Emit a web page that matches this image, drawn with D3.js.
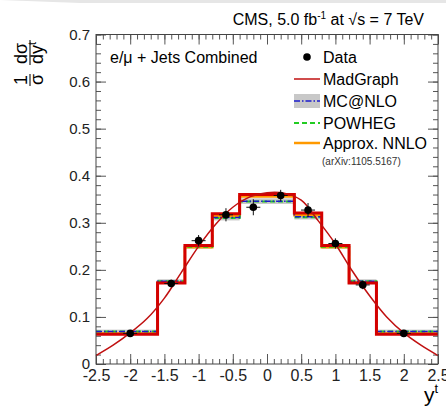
<!DOCTYPE html>
<html>
<head>
<meta charset="utf-8">
<script src="https://cdn.jsdelivr.net/npm/d3@7"></script>
<style>
  body { margin: 0; background: #fff; }
  svg { font-family: "Liberation Sans", Arial, sans-serif; display: block; }
  .axis text { font-size: 15px; fill: #222; }
  .axis.xl text { font-size: 16px; }
  .axis line { stroke: #555; }
  .axis path { display: none; }
</style>
</head>
<body>
<div id="chart"></div>
<script>
// bin edges of the top-quark rapidity histogram
var binEdges = [-2.5, -1.6, -1.2, -0.8, -0.4, 0, 0.4, 0.8, 1.2, 1.6, 2.5];
var madgraph = [0.063, 0.172, 0.252, 0.319, 0.360, 0.360, 0.321, 0.252, 0.172, 0.063];
var mcatnlo  = [0.069, 0.176, 0.250, 0.311, 0.346, 0.346, 0.313, 0.250, 0.176, 0.069];
var mcatnloErr = [0.004, 0.004, 0.005, 0.006, 0.006, 0.006, 0.006, 0.005, 0.004, 0.004];
var powheg   = [0.069, 0.176, 0.249, 0.310, 0.345, 0.345, 0.312, 0.249, 0.176, 0.069];
var nnlo     = [0.065, 0.173, 0.248, 0.314, 0.356, 0.356, 0.316, 0.248, 0.173, 0.065];

// measured points
var dataX   = [-2.0, -1.4, -1.0, -0.6, -0.2, 0.2, 0.6, 1.0, 1.4, 2.0];
var dataY   = [0.065, 0.171, 0.262, 0.317, 0.333, 0.358, 0.327, 0.256, 0.168, 0.065];
var dataErr = [0.006, 0.008, 0.012, 0.014, 0.017, 0.012, 0.015, 0.011, 0.009, 0.006];

// smooth MadGraph curve
var curveX = [-2.5, -2.25, -2.0, -1.75, -1.5, -1.25, -1.0, -0.75, -0.5, -0.25, 0, 0.25, 0.5, 0.75, 1.0, 1.25, 1.5, 1.75, 2.0, 2.25, 2.5];
var curveY = [0.018, 0.040, 0.066, 0.097, 0.140, 0.195, 0.250, 0.297, 0.333, 0.355, 0.364, 0.363, 0.348, 0.304, 0.255, 0.197, 0.145, 0.100, 0.066, 0.040, 0.018];

var xMajor = [-2.5, -2, -1.5, -1, -0.5, 0, 0.5, 1, 1.5, 2, 2.5];
var xLabels = ["-2.5", "-2", "-1.5", "-1", "-0.5", "0", "0.5", "1", "1.5", "2", "2.5"];
var yMajor = [0, 0.1, 0.2, 0.3, 0.4, 0.5, 0.6, 0.7];
var yLabels = ["0", "0.1", "0.2", "0.3", "0.4", "0.5", "0.6", "0.7"];

var legendNames = ["Data", "MadGraph", "MC@NLO", "POWHEG", "Approx. NNLO"];

var w = 446, h = 410;
var padL = 96, padR = 438, padT = 34.5, padB = 364;

var svg = d3.select("#chart").append("svg")
    .attr("width", w).attr("height", h);

// faint page shadow at the top
svg.append("polygon")
    .attr("points", "0,0 446,0 446,3 80,3")
    .attr("fill", "#e6e6e6");

var xScale = d3.scaleLinear().domain([-2.5, 2.5]).range([padL, padR]);
var yScale = d3.scaleLinear().domain([0, 0.7]).range([padB, padT]);

var xMinor = d3.range(-25, 26).map(function(d) { return d / 10; });
var yMinor = d3.range(0, 36).map(function(d) { return d / 50; });

// ticks on all four sides, pointing inwards
function addAxis(axisFn, scale, vals, size, transform, labels, cls) {
    var ax = axisFn(scale).tickValues(vals).tickSize(-size).tickPadding(6);
    if (labels) ax.tickFormat(function(d, i) { return labels[i]; });
    else ax.tickFormat("");
    return svg.append("g").attr("class", "axis " + (cls || "")).attr("transform", transform).call(ax);
}
addAxis(d3.axisBottom, xScale, xMinor, 5, "translate(0," + padB + ")");
addAxis(d3.axisBottom, xScale, xMajor, 10, "translate(0," + padB + ")", xLabels, "xl");
addAxis(d3.axisTop, xScale, xMinor, 5, "translate(0," + padT + ")");
addAxis(d3.axisTop, xScale, xMajor, 10, "translate(0," + padT + ")");
addAxis(d3.axisLeft, yScale, yMinor, 5, "translate(" + padL + ",0)");
addAxis(d3.axisLeft, yScale, yMajor, 10, "translate(" + padL + ",0)", yLabels);
addAxis(d3.axisRight, yScale, yMinor, 5, "translate(" + padR + ",0)");
addAxis(d3.axisRight, yScale, yMajor, 10, "translate(" + padR + ",0)");

// step histograms
function steps(vals) {
    var pts = binEdges.map(function(e, i) { return [e, vals[Math.min(i, vals.length - 1)]]; });
    return d3.line()
        .x(function(d) { return xScale(d[0]); })
        .y(function(d) { return yScale(d[1]); })
        .curve(d3.curveStepAfter)(pts);
}

// MC@NLO uncertainty band
svg.selectAll(".band")
    .data(mcatnlo)
    .enter()
    .append("rect")
    .attr("class", "band")
    .attr("x", function(d, i) { return xScale(binEdges[i]); })
    .attr("width", function(d, i) { return xScale(binEdges[i + 1]) - xScale(binEdges[i]); })
    .attr("y", function(d, i) { return yScale(d + mcatnloErr[i]); })
    .attr("height", function(d, i) { return yScale(d - mcatnloErr[i]) - yScale(d + mcatnloErr[i]); })
    .attr("fill", "#c8c8c8");

svg.append("path").attr("d", steps(nnlo))
    .attr("fill", "none").attr("stroke", "#ff9900").attr("stroke-width", 2.5);
svg.append("path").attr("d", steps(powheg))
    .attr("fill", "none").attr("stroke", "#22cc22").attr("stroke-width", 2)
    .attr("stroke-dasharray", "5,3");
svg.append("path").attr("d", steps(mcatnlo))
    .attr("fill", "none").attr("stroke", "#1a1acc").attr("stroke-width", 1.5)
    .attr("stroke-dasharray", "6,2,1.5,2");
svg.append("path").attr("d", steps(madgraph))
    .attr("fill", "none").attr("stroke", "#d40000").attr("stroke-width", 3);

// smooth curve
var curveLine = d3.line()
    .x(function(d, i) { return xScale(d); })
    .y(function(d, i) { return yScale(curveY[i]); })
    .curve(d3.curveCatmullRom);
svg.append("path").datum(curveX).attr("d", curveLine)
    .attr("fill", "none").attr("stroke", "#c01010").attr("stroke-width", 1.5);

// data points with error crosses
var pts = svg.selectAll(".pt").data(dataX).enter().append("g").attr("class", "pt");
pts.append("line")
    .attr("x1", function(d) { return xScale(d) - 7; })
    .attr("x2", function(d) { return xScale(d) + 7; })
    .attr("y1", function(d, i) { return yScale(dataY[i]); })
    .attr("y2", function(d, i) { return yScale(dataY[i]); })
    .attr("stroke", "#111").attr("stroke-width", 1);
pts.append("line")
    .attr("x1", function(d) { return xScale(d); })
    .attr("x2", function(d) { return xScale(d); })
    .attr("y1", function(d, i) { return yScale(dataY[i] - dataErr[i]); })
    .attr("y2", function(d, i) { return yScale(dataY[i] + dataErr[i]); })
    .attr("stroke", "#111").attr("stroke-width", 1);
pts.append("circle")
    .attr("cx", function(d) { return xScale(d); })
    .attr("cy", function(d, i) { return yScale(dataY[i]); })
    .attr("r", 3.8).attr("fill", "#000");

// frame
svg.append("rect")
    .attr("x", padL).attr("y", padT)
    .attr("width", padR - padL).attr("height", padB - padT)
    .attr("fill", "none").attr("stroke", "#444").attr("stroke-width", 1);

// titles
svg.append("text")
    .attr("x", 424).attr("y", 25)
    .attr("text-anchor", "end")
    .style("font-size", "16px")
    .html('CMS, 5.0 fb<tspan dy="-6" font-size="10">-1</tspan><tspan dy="6"> at </tspan>\u221As = 7 TeV');

svg.append("text")
    .attr("x", 110).attr("y", 63)
    .style("font-size", "16px")
    .text("e/\u03bc + Jets Combined");

svg.append("text")
    .attr("x", 438).attr("y", 402)
    .attr("text-anchor", "end")
    .style("font-size", "21px")
    .html('y<tspan dy="-9" font-size="13">t</tspan>');

// rotated y title: (1/sigma) dsigma/dy^t
var yt = svg.append("g").attr("transform", "translate(30,86) rotate(-90)");
yt.append("text").attr("x", 1).attr("y", -3).style("font-size", "18px").text("1");
yt.append("text").attr("x", 1).attr("y", 13).style("font-size", "18px").text("\u03c3");
yt.append("line").attr("x1", 0).attr("x2", 12).attr("y1", 0).attr("y2", 0)
    .attr("stroke", "#222").attr("stroke-width", 1.2);
yt.append("text").attr("x", 22).attr("y", -3).style("font-size", "18px").text("d\u03c3");
yt.append("text").attr("x", 22).attr("y", 13).style("font-size", "18px")
    .html('dy<tspan dy="-7" font-size="11">t</tspan>');
yt.append("line").attr("x1", 21).attr("x2", 46).attr("y1", 0).attr("y2", 0)
    .attr("stroke", "#222").attr("stroke-width", 1.2);

// legend
var legY = [57, 79, 101, 123, 143];
var lx1 = 294, lx2 = 320;
svg.append("circle").attr("cx", 307).attr("cy", legY[0]).attr("r", 3.8).attr("fill", "#000");
svg.append("line").attr("x1", lx1).attr("x2", lx2).attr("y1", legY[1]).attr("y2", legY[1])
    .attr("stroke", "#c01010").attr("stroke-width", 1.5);
svg.append("rect").attr("x", lx1).attr("y", legY[2] - 7).attr("width", lx2 - lx1).attr("height", 14)
    .attr("fill", "#c8c8c8");
svg.append("line").attr("x1", lx1).attr("x2", lx2).attr("y1", legY[2]).attr("y2", legY[2])
    .attr("stroke", "#1a1acc").attr("stroke-width", 1.5).attr("stroke-dasharray", "6,2,1.5,2");
svg.append("line").attr("x1", lx1).attr("x2", lx2).attr("y1", legY[3]).attr("y2", legY[3])
    .attr("stroke", "#22cc22").attr("stroke-width", 2).attr("stroke-dasharray", "5,3");
svg.append("line").attr("x1", lx1).attr("x2", lx2).attr("y1", legY[4]).attr("y2", legY[4])
    .attr("stroke", "#ff9900").attr("stroke-width", 2.5);

svg.selectAll(".legtext")
    .data(legendNames)
    .enter()
    .append("text")
    .attr("class", "legtext")
    .attr("x", 323)
    .attr("y", function(d, i) { return legY[i] + 6; })
    .style("font-size", "16px")
    .text(function(d) { return d; });

svg.append("text")
    .attr("x", 322).attr("y", 165)
    .style("font-size", "10px")
    .attr("fill", "#333")
    .text("(arXiv:1105.5167)");
</script>
</body>
</html>
